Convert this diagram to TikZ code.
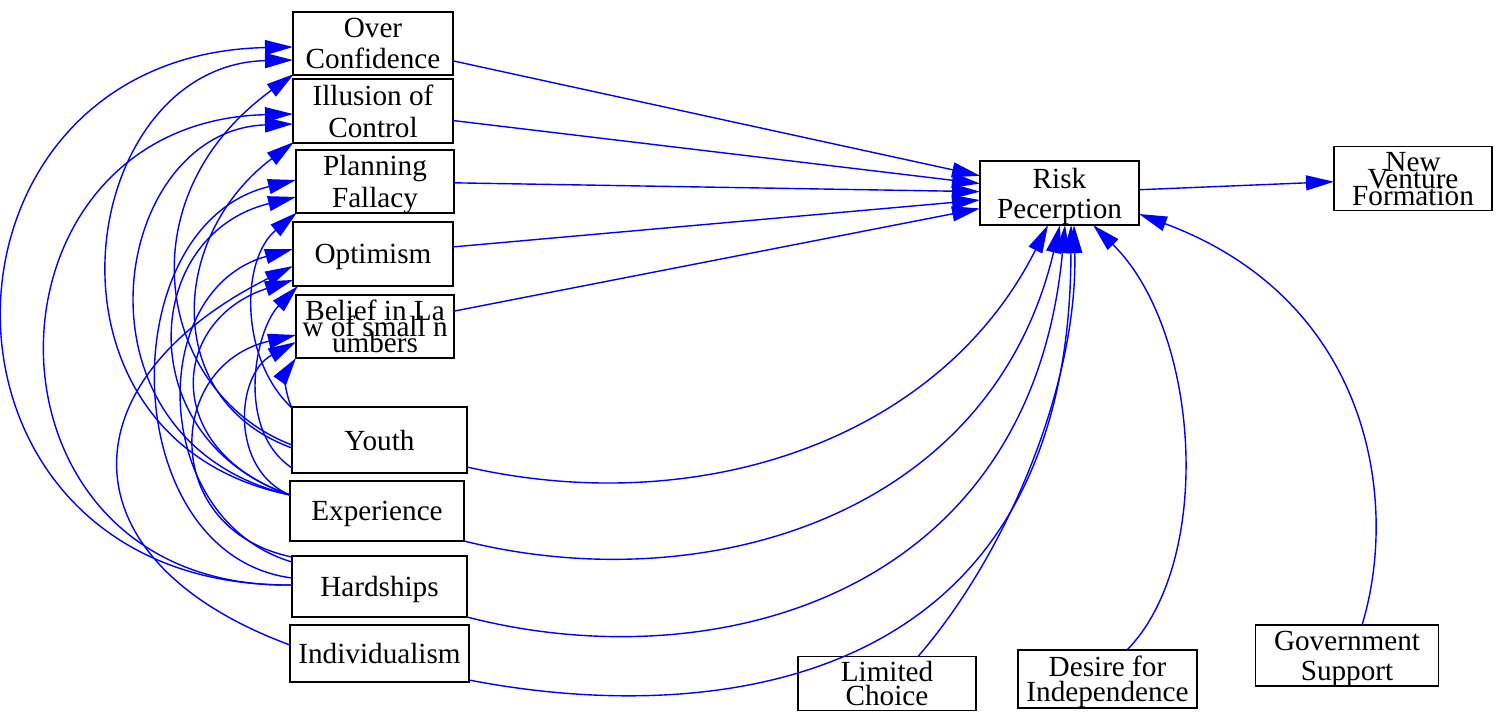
\documentclass[tikz,border=0pt]{standalone}
\usepackage{fontspec}
\setmainfont{Liberation Serif}
\usetikzlibrary{arrows.meta,calc}
% let tight baselines overlap instead of falling back to \lineskip
\setlength{\lineskiplimit}{-100pt}
\begin{document}
\begin{tikzpicture}[x=0.5pt,y=-0.5pt,
  box/.style={draw=black, line width=0.7pt, inner sep=0pt, outer sep=0pt, align=center, text depth=0pt},
  sz/.style 2 args={minimum width=#1pt, minimum height=#2pt},
  fs/.style={font={\fontsize{14.6pt}{#1pt}\selectfont}},
  link/.style={draw=blue, line width=0.7pt, -{Triangle[length=14pt,width=7.5pt]}}]
\useasboundingbox (0,0) rectangle (1502,711);

% bias column
\node[box,sz={80}{31.5},fs=15.5] (oc)   at (373,43.5)  {Over\\Confidence};
\node[box,sz={80}{32},fs=16]     (ill)  at (373,111)   {Illusion of\\Control};
\node[box,sz={79}{31.5},fs=16]   (plan) at (375,181.5) {Planning\\Fallacy};
\node[box,sz={80}{32},fs=15.5]   (opt)  at (373,254)   {Optimism};
\node[box,sz={79}{31.5},fs=8]    (bel)  at (375,326.5) {Belief in La\\w of small n\\umbers};
% antecedents
\node[box,sz={87.5}{33},fs=15.5]   (youth) at (379.5,440)   {Youth};
\node[box,sz={87}{30},fs=15.5]     (exper) at (377,511)     {Experience};
\node[box,sz={87.5}{30.5},fs=15.5] (hard)  at (379.5,586.5) {Hardships};
\node[box,sz={89.5}{28.5},fs=15.5] (indiv) at (379.5,653.5) {Individualism};
% outcome side
\node[box,sz={79.5}{32},fs=15]   (rp)  at (1059.5,193) {Risk\\Pecerption};
\node[box,sz={79}{32},fs=8.5]    (nvf) at (1413,178.5) {New\\Venture\\Formation};
\node[box,sz={89}{27},fs=12]     (lc)  at (887,683.5)  {Limited\\Choice};
\node[box,sz={89.5}{29},fs=12.5] (dfi) at (1107.5,679) {Desire for\\Independence};
\node[box,sz={91.5}{30.5},fs=15] (gs)  at (1347,655.5) {Government\\Support};

% biases -> risk perception -> venture formation
\draw[link] (oc) -- (rp);
\draw[link] (ill) -- (rp);
\draw[link] (plan) -- (rp);
\draw[link] (opt) -- (rp);
\draw[link] (bel) -- (rp);
\draw[link] (rp) -- (nvf);

% hardships -> biases
\draw[link] ($(hard.west)+(0,-1.5)$) .. controls (-95,588) and (-90,55) .. ($(oc.west)+(0,3.5)$);
\draw[link] ($(hard.west)+(0,-1.5)$) .. controls (-37,590) and (-33,122) .. ($(ill.west)+(0,3)$);
\draw[link] ($(hard.west)+(0,-8.5)$) .. controls (115,555) and (110,225) .. ($(plan.west)+(0,-1.5)$);
\draw[link] ($(hard.west)+(0,-24.5)$) .. controls (150,520) and (145,290) .. ($(opt.west)+(0,-5)$);
\draw[link] ($(hard.north west)+(0,1)$) .. controls (160,530) and (165,365) .. ($(bel.west)+(0,8.5)$);
% experience -> biases
\draw[link] ($(exper.west)+(0,-16)$) .. controls (20,440) and (75,65) .. ($(oc.west)+(0,16.5)$);
\draw[link] ($(exper.west)+(0,-16)$) .. controls (60,440) and (110,130) .. ($(ill.west)+(0,13)$);
\draw[link] ($(exper.west)+(0,-16)$) .. controls (130,440) and (140,235) .. ($(plan.west)+(0,15.5)$);
\draw[link] ($(exper.west)+(0,-16)$) .. controls (160,450) and (170,320) .. ($(opt.west)+(0,26)$);
\draw[link] ($(exper.west)+(0,-16)$) .. controls (230,470) and (235,375) .. ($(bel.west)+(0,15.5)$);
% youth -> biases
\draw[link] ($(youth.west)+(0,5)$) .. controls (160,395) and (120,200) .. ($(oc.south west)+(1,-1)$);
\draw[link] ($(youth.west)+(0,8)$) .. controls (160,400) and (170,235) .. ($(ill.south west)+(1,-1)$);
\draw[link] ($(youth.north west)+(0,1)$) .. controls (240,360) and (240,260) .. ($(plan.south west)+(1,-0.5)$);
\draw[link] ($(youth.west)+(0,28)$) .. controls (235,430) and (255,330) .. ($(opt.south west)+(5,0)$);
\draw[link] ($(youth.north west)+(0,1)$) .. controls (284,392) and (286,372) .. (bel.south west);
% individualism -> optimism
\draw[link] ($(indiv.west)+(0,-8.5)$) .. controls (60,560) and (65,380) .. ($(opt.west)+(0,12)$);

% antecedents -> risk perception
\draw[link] ($(youth.east)+(0,27)$) .. controls (700,520) and (940,440) .. ($(rp.south)+(-11.5,0)$);
\draw[link] (exper.south east) .. controls (700,600) and (990,520) .. ($(rp.south)+(0.5,0)$);
\draw[link] (hard.south east) .. controls (710,680) and (1030,600) .. ($(rp.south)+(5.5,0)$);
\draw[link] ($(indiv.east)+(0,26.5)$) .. controls (700,725) and (1070,700) .. ($(rp.south)+(11.5,0)$);
\draw[link] ($(lc.north)+(31,0)$) .. controls (1010,550) and (1078,380) .. ($(rp.south)+(14.5,0)$);
\draw[link] ($(dfi.north)+(19.5,0)$) .. controls (1215,560) and (1200,330) .. ($(rp.south)+(33.5,0)$);
\draw[link] ($(gs.north)+(15,0)$) .. controls (1400,500) and (1370,300) .. ($(rp.east)+(0,21)$);
\end{tikzpicture}
\end{document}
